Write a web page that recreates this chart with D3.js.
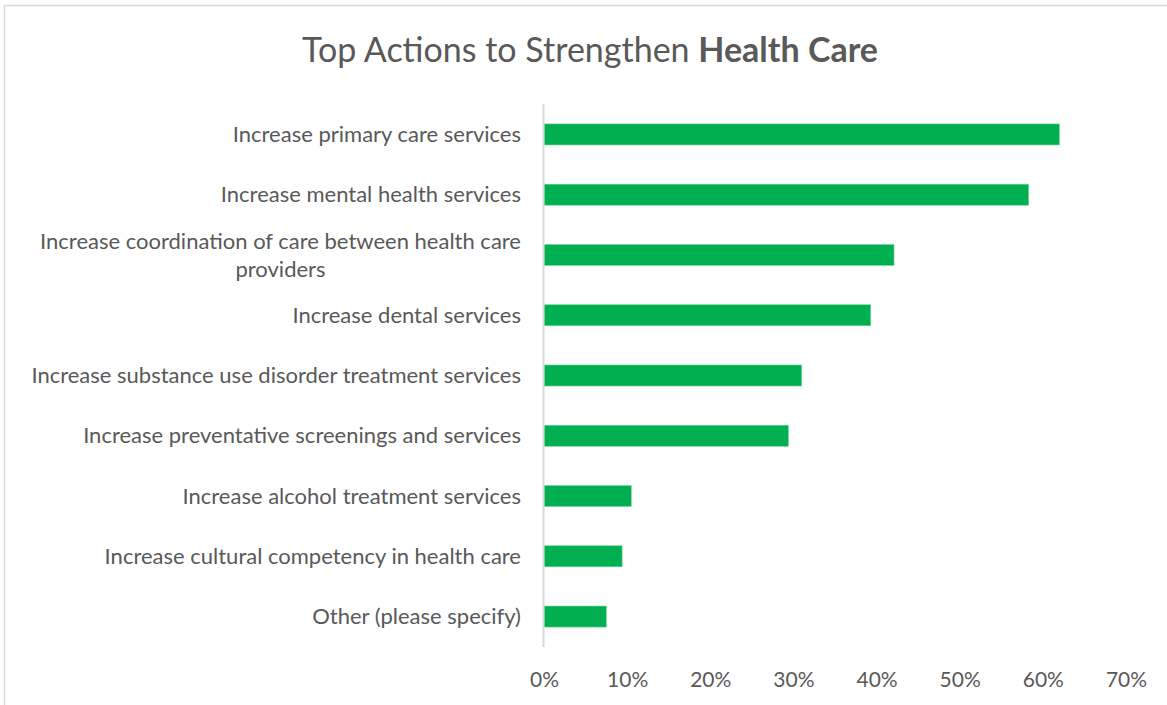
<!DOCTYPE html>
<html>
<head>
<meta charset="utf-8">
<script src="https://cdn.jsdelivr.net/npm/d3@7"></script>
<style>
  html, body { margin: 0; padding: 0; background: #fff; }
  svg { display: block; }
  text { font-family: Lato, "Open Sans", sans-serif; fill: #595959; }
</style>
</head>
<body>
<svg id="chart" width="1167" height="705"></svg>
<script>
// Survey responses: share of respondents choosing each action
const categories = [
  "Increase primary care services",
  "Increase mental health services",
  "Increase coordination of care between health care providers",
  "Increase dental services",
  "Increase substance use disorder treatment services",
  "Increase preventative screenings and services",
  "Increase alcohol treatment services",
  "Increase cultural competency in health care",
  "Other (please specify)"
];
const values = [0.62, 0.583, 0.421, 0.393, 0.31, 0.294, 0.105, 0.094, 0.075];
const tickValues = [0, 0.1, 0.2, 0.3, 0.4, 0.5, 0.6, 0.7];

const svg = d3.select("#chart");
const W = 1167, H = 705;
const margin = { top: 104, right: 41, bottom: 58, left: 544 };

// chart area frame
svg.append("rect")
  .attr("x", 4.5).attr("y", 5.5)
  .attr("width", W + 10).attr("height", H + 10)
  .attr("fill", "#fff").attr("stroke", "#d9d9d9").attr("stroke-width", 1.5);

// title
const title = svg.append("text")
  .attr("x", 590).attr("y", 62)
  .attr("text-anchor", "middle")
  .style("font-size", "34px");
title.append("tspan").text("Top Actions to Strengthen ");
title.append("tspan").style("font-weight", "bold").text("Health Care");

const x = d3.scaleLinear().domain([0, 0.7]).range([margin.left, W - margin.right]);
const y = d3.scaleBand().domain(categories).range([margin.top, H - margin.bottom]).paddingInner(0.65).paddingOuter(0.33);

// bars
svg.append("g").selectAll("rect")
  .data(categories)
  .join("rect")
  .attr("x", x(0))
  .attr("y", d => y(d))
  .attr("width", (d, i) => x(values[i]) - x(0))
  .attr("height", y.bandwidth())
  .attr("fill", "#00b050")
  .attr("stroke", "#7fd8a6")
  .attr("stroke-width", 0.6);

// vertical category axis line
svg.append("line")
  .attr("x1", x(0) - 0.5).attr("x2", x(0) - 0.5)
  .attr("y1", margin.top).attr("y2", H - margin.bottom)
  .attr("stroke", "#d9d9d9").attr("stroke-width", 2);

// x axis tick labels
const xAxis = d3.axisBottom(x).tickValues(tickValues).tickFormat(d3.format(".0%")).tickSize(0).tickPadding(0);
const gx = svg.append("g").attr("transform", `translate(0, ${H - 18})`).call(xAxis);
gx.select(".domain").remove();
gx.selectAll("text").attr("dy", 0).style("font-size", "21px").style("font-family", "Lato, sans-serif").attr("fill", "#595959");

// category labels, wrapped when too long
const labelRight = 521, maxWidth = 505, lineH = 28;
const gl = svg.append("g").style("font-size", "22px");
categories.forEach(c => {
  const cy = y(c) + y.bandwidth() / 2;
  const t = gl.append("text").attr("text-anchor", "end");
  const words = c.split(" ");
  const lines = [];
  let line = [];
  const probe = gl.append("text");
  words.forEach(w => {
    const trial = line.concat(w).join(" ");
    probe.text(trial);
    if (probe.node().getComputedTextLength() > maxWidth && line.length) {
      lines.push(line.join(" "));
      line = [w];
    } else {
      line.push(w);
    }
  });
  lines.push(line.join(" "));
  probe.remove();
  if (lines.length === 1) {
    t.attr("x", labelRight).attr("y", cy).attr("dy", "0.35em").text(lines[0]);
  } else {
    t.attr("text-anchor", "middle");
    const tmp = gl.append("text").text(lines[0]);
    const w0 = tmp.node().getComputedTextLength();
    tmp.remove();
    const cx = labelRight - w0 / 2;
    lines.forEach((ln, i) => {
      t.append("tspan")
        .attr("x", cx)
        .attr("y", cy + (i - (lines.length - 1) / 2) * lineH)
        .attr("dy", "0.35em")
        .text(ln);
    });
  }
});
</script>
</body>
</html>
